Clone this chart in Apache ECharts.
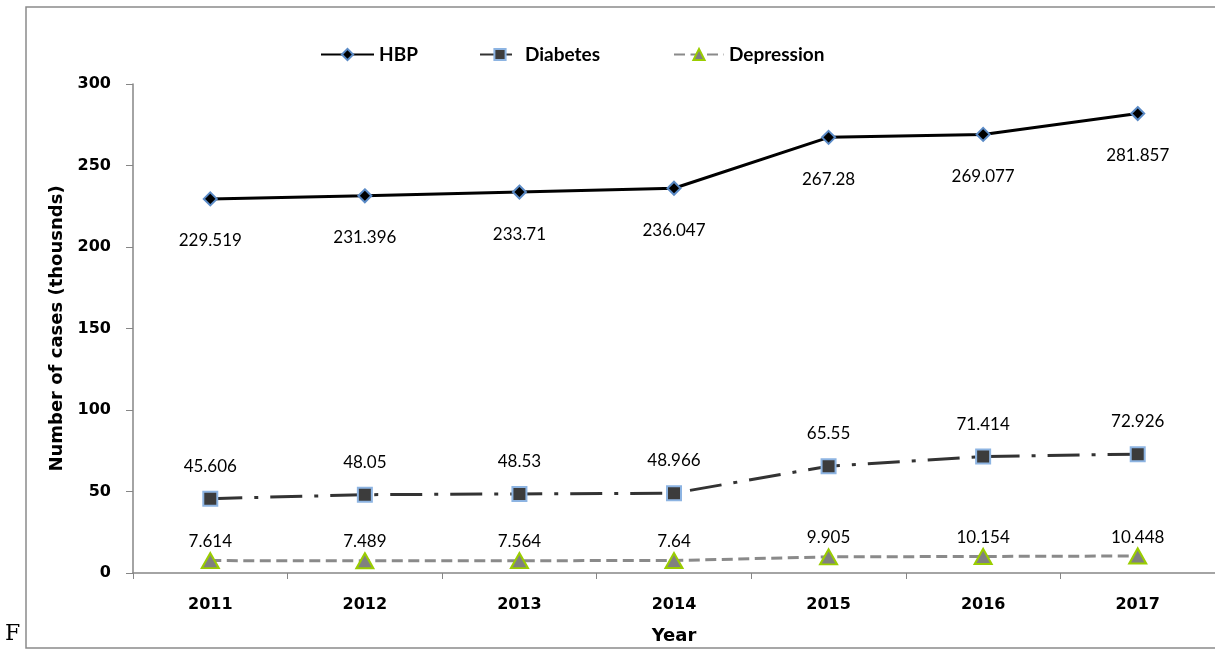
<!DOCTYPE html>
<html><head><meta charset="utf-8">
<script src="https://cdn.jsdelivr.net/npm/echarts@6/dist/echarts.min.js"></script>
<style>html,body{margin:0;padding:0;background:#fff}#c{width:1215px;height:650px}</style>
</head><body><div id="c"></div>
<script>
const years = ['2011','2012','2013','2014','2015','2016','2017'];
const hbp = [229.519, 231.396, 233.71, 236.047, 267.28, 269.077, 281.857];
const diabetes = [45.606, 48.05, 48.53, 48.966, 65.55, 71.414, 72.926];
const depression = [7.614, 7.489, 7.564, 7.64, 9.905, 10.154, 10.448];
const yTicks = [0, 50, 100, 150, 200, 250, 300];

const chart = echarts.init(document.getElementById('c'));
const lblFont = {fontFamily: 'Lato', fontSize: 17, color: '#000'};
const legText = {fontFamily: 'Lato', fontWeight: 'bold', fontSize: 19, color: '#000'};
const axFont = {fontFamily: 'DejaVu Sans', fontWeight: 'bold', fontSize: 16, color: '#000'};
const nmFont = {fontFamily: 'DejaVu Sans', fontWeight: 'bold', fontSize: 18, color: '#000'};
chart.setOption({
  animation: false,
  backgroundColor: '#fff',
  graphic: [
    {type: 'rect', shape: {x: 26, y: 7, width: 1200, height: 641}, style: {fill: 'none', stroke: '#8a8a8a', lineWidth: 1.5}},
    {type: 'text', left: 5, top: 623, style: {text: 'F', font: '22px "DejaVu Serif"', fill: '#000'}}
  ],
  legend: [
    {top: 40, left: 315, itemWidth: 53, itemHeight: 14, textStyle: legText, data: ['HBP']},
    {top: 40, left: 474, itemWidth: 40, itemHeight: 14, textStyle: legText, data: ['Diabetes']},
    {top: 40, left: 668, itemWidth: 50, itemHeight: 14, textStyle: legText, data: ['Depression']}
  ],
  grid: {left: 133, top: 84, width: 1085, height: 491},
  xAxis: {
    type: 'category', data: years, boundaryGap: true,
    name: 'Year', nameLocation: 'middle', nameGap: 54,
    nameTextStyle: nmFont,
    axisLine: {lineStyle: {color: '#868686', width: 1.5}},
    axisTick: {show: true, length: 6, alignWithLabel: false, lineStyle: {color: '#868686'}},
    axisLabel: Object.assign({margin: 24}, axFont)
  },
  yAxis: {
    type: 'value', min: 0, max: 300, interval: 50,
    name: 'Number of cases (thousnds)', nameLocation: 'middle', nameGap: 65, nameRotate: 90,
    nameTextStyle: nmFont,
    axisLine: {show: true, lineStyle: {color: '#868686', width: 1.5}},
    axisTick: {show: true, length: 7, inside: false, lineStyle: {color: '#868686'}},
    splitLine: {show: false},
    axisLabel: Object.assign({margin: 22, formatter: v => yTicks.includes(v) ? String(v) : ''}, axFont)
  },
  series: [
    {
      name: 'HBP', type: 'line', data: hbp,
      symbol: 'diamond', symbolSize: 13,
      lineStyle: {color: '#000', width: 3},
      itemStyle: {color: '#000', borderColor: '#5a8ac6', borderWidth: 2},
      label: Object.assign({show: true, position: 'bottom', distance: 26}, lblFont)
    },
    {
      name: 'Diabetes', type: 'line', data: diabetes,
      symbol: 'rect', symbolSize: 14,
      lineStyle: {color: '#333', width: 3, type: [32, 12, 4, 12]},
      itemStyle: {color: '#3c3c3c', borderColor: '#8db4e2', borderWidth: 2},
      label: Object.assign({show: true, position: 'top', distance: 16}, lblFont)
    },
    {
      name: 'Depression', type: 'line', data: depression,
      symbol: 'triangle', symbolSize: [17, 15],
      lineStyle: {color: '#8a8a8a', width: 3, type: [11, 5.5]},
      itemStyle: {color: '#808080', borderColor: '#9acd00', borderWidth: 2},
      label: Object.assign({show: true, position: 'top', distance: 2}, lblFont)
    }
  ]
});
</script></body></html>
